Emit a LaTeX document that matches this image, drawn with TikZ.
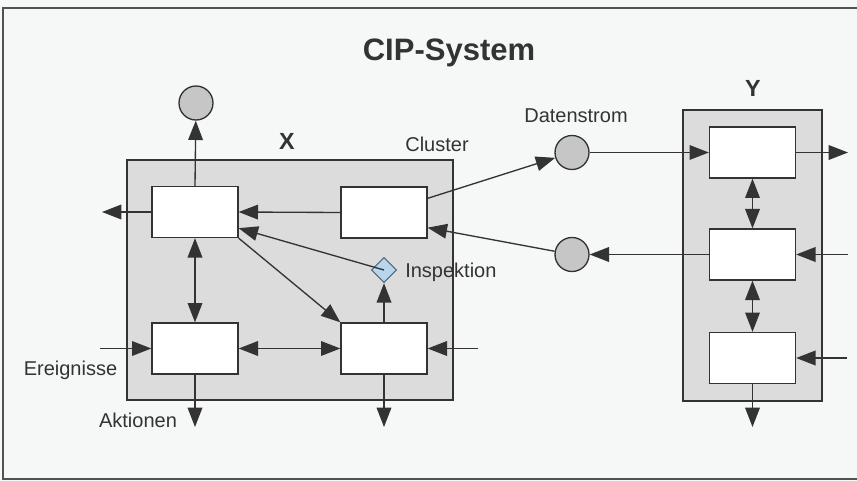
\documentclass[tikz,border=0pt]{standalone}
\usepackage{fontspec}
\setmainfont{Liberation Sans}
\usetikzlibrary{arrows.meta,calc,shapes.geometric}

\definecolor{ink}{HTML}{333333}
\definecolor{paper}{HTML}{F6F7F7}
\definecolor{clusterfill}{HTML}{DCDCDC}
\definecolor{dotfill}{HTML}{C6C6C6}
\definecolor{probe}{HTML}{B9D5EC}
\definecolor{probeedge}{HTML}{4D6880}

\begin{document}
\begin{tikzpicture}[x=0.75pt,y=-0.75pt,
  >={Triangle[length=14.5pt,width=11pt]},
  conn/.style={draw=ink, line width=1pt, ->},
  both/.style={draw=ink, line width=1pt, <->},
  unit/.style={draw=ink, fill=white, line width=1pt, minimum width=64.5pt,
    minimum height=38.25pt, inner sep=0pt},
  stream/.style={circle, draw=ink, fill=dotfill, line width=1pt,
    minimum size=25.5pt, inner sep=0pt},
  probenode/.style={diamond, draw=probeedge, fill=probe, line width=0.8pt,
    minimum width=19pt, minimum height=19pt, inner sep=0pt},
  cluster/.style={draw=ink, fill=clusterfill, line width=1pt},
  lbl/.style={text=ink, font=\fontsize{15}{18}\selectfont, inner sep=0pt, anchor=base},
  heading/.style={text=ink, font=\fontsize{23.25}{28}\selectfont\bfseries, inner sep=0pt, anchor=base},
  tag/.style={text=ink, font=\fontsize{17.5}{21}\selectfont\bfseries, inner sep=0pt, anchor=base}
]
% page and frame
\fill[paper] (0,0) rectangle (857,481);
\useasboundingbox (0,0) rectangle (857,481);
\draw[ink!85, line width=1pt] (857,8) -- (3,8) -- (3,479) -- (857,479);

% cluster backgrounds
\draw[cluster] (127,160) rectangle (453,400);
\draw[cluster] (683,110) rectangle (822,401);

% processing units
\node[unit] (A) at (195,212) {};
\node[unit] (B) at (384,212.5) {};
\node[unit] (C) at (195,348.5) {};
\node[unit] (D) at (384,348.5) {};
\node[unit] (Y1) at (752.5,152.5) {};
\node[unit] (Y2) at (752.5,254.5) {};
\node[unit] (Y3) at (752.5,358) {};

% data streams and inspection point
\node[stream] (out) at (196,103) {};
\node[stream] (s1) at (572,152.5) {};
\node[stream] (s2) at (572,254.5) {};
\node[probenode] (insp) at (384,270) {};

% free ends of connectors
\coordinate (aOut) at (102,212);
\coordinate (evIn) at (100,348.5);
\coordinate (cOut) at (195,427);
\coordinate (dOut) at (384,427);
\coordinate (dIn) at (478,348.5);
\coordinate (y1Out) at (848,152.5);
\coordinate (y2In) at (848,254.5);
\coordinate (y3In) at (847,358);
\coordinate (y3Out) at (752.5,427);

% connectors inside X
\draw[conn] (A.north) -- (out);
\draw[conn] (A.west) -- (aOut);
\draw[conn] (B.west) -- (A.east);
\draw[conn] (insp.center) -- ($(A.south east)+(0,-10)$);
\draw[conn] (A.south east) -- (D.north west);
\draw[both] (A.south) -- (C.north);
\draw[both] (C.east) -- (D.west);
\draw[conn] (evIn) -- (C.west);
\draw[conn] (C.south) -- (cOut);
\draw[conn] (D.south) -- (dOut);
\draw[conn] (D.north) -- (insp.south);
\draw[conn] (dIn) -- (D.east);

% connectors between X and Y
\draw[conn] ($(B.north east)+(0,12)$) -- (s1);
\draw[conn] (s1) -- (Y1.west);
\draw[conn] (Y2.west) -- (s2);
\draw[conn] (s2) -- ($(B.south east)+(0,-11)$);

% connectors inside Y
\draw[conn] (Y1.east) -- (y1Out);
\draw[both] (Y1.south) -- (Y2.north);
\draw[conn] (y2In) -- (Y2.east);
\draw[both] (Y2.south) -- (Y3.north);
\draw[conn] (y3In) -- (Y3.east);
\draw[conn] (Y3.south) -- (y3Out);

% labels
\node[heading] (ttl) at (449,61) {CIP-System};
\node[tag] (lx) at (287,150) {X};
\node[tag] (ly) at (753,97) {Y};
\node[lbl] (lcl) at (437,152) {Cluster};
\node[lbl] (lds) at (576,123) {Datenstrom};
\node[lbl, anchor=base west] (lin) at (405,277) {Inspektion};
\node[lbl] (lev) at (70.5,375) {Ereignisse};
\node[lbl] (lak) at (138,427) {Aktionen};
\end{tikzpicture}
\end{document}
